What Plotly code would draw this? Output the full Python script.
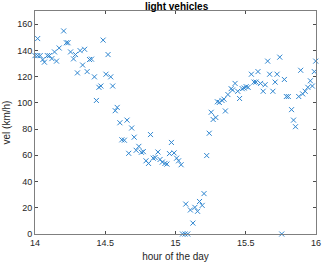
import plotly.graph_objects as go

hour = [14.0, 14.019, 14.019, 14.037, 14.056, 14.067, 14.088, 14.102, 14.12, 14.139,
        14.153, 14.172, 14.204, 14.223, 14.235, 14.253, 14.274, 14.288, 14.302, 14.321,
        14.339, 14.353, 14.371, 14.388, 14.402, 14.423, 14.437, 14.455, 14.469, 14.485,
        14.505, 14.52, 14.539, 14.553, 14.571, 14.585, 14.604, 14.618, 14.636, 14.655,
        14.667, 14.688, 14.706, 14.72, 14.739, 14.757, 14.771, 14.79, 14.808, 14.822,
        14.841, 14.855, 14.875, 14.89, 14.906, 14.925, 14.939, 14.957, 14.971, 14.99,
        15.008, 15.022, 15.04, 15.05, 15.068, 15.073, 15.087, 15.106, 15.124, 15.138,
        15.157, 15.171, 15.19, 15.203, 15.222, 15.24, 15.254, 15.268, 15.287, 15.298,
        15.312, 15.331, 15.345, 15.355, 15.373, 15.396, 15.406, 15.424, 15.443, 15.456,
        15.475, 15.489, 15.503, 15.517, 15.54, 15.559, 15.573, 15.587, 15.605, 15.624,
        15.638, 15.656, 15.67, 15.693, 15.709, 15.723, 15.742, 15.756, 15.775, 15.789,
        15.803, 15.826, 15.84, 15.854, 15.877, 15.891, 15.905, 15.923, 15.942, 15.96,
        15.974, 15.988, 15.998]
vel = [136, 149, 136, 136, 133, 131, 136, 136, 133.7, 138.8,
       131.8, 141.8, 154.8, 145.8, 145.8, 138.8, 133.5, 136.8, 122.8, 139.8,
       128.8, 140.8, 123.8, 133, 133.3, 119.8, 101.8, 111.8, 112.8, 147.8,
       121.8, 136.8, 119.8, 112.8, 94, 96.5, 84.8, 71.8, 71.5, 86.8,
       61.5, 80.8, 73.8, 63.8, 66.8, 62.3, 62.8, 55.8, 53.8, 75.8,
       57.8, 58.3, 62.5, 56.8, 54.8, 53.8, 53.3, 61.3, 69.8, 61.8,
       57.8, 55.8, 52.8, 0, 0, 22.8, 0, 18.3, 8.3, 20.3,
       17.3, 24.8, 21.8, 30.8, 59.8, 76.8, 92.8, 87.3, 88.8, 100.8,
       100.3, 101.8, 102.8, 93.8, 106.3, 110.8, 109.8, 114.8, 108.8, 103.3,
       110.8, 111.3, 112.3, 111.8, 121.8, 115.8, 115.8, 123.8, 114.8, 108.8,
       113.8, 131.8, 121.8, 108.8, 115.8, 121.8, 134.8, 0, 117.8, 104.8,
       104.8, 94.8, 86.8, 81.8, 104.8, 124.8, 106.8, 108.8, 111.8, 116.8,
       112.8, 123.8, 131.8]

x_ticks = [14, 14.5, 15, 15.5, 16]
x_tick_text = ["14", "14.5", "15", "15.5", "16"]
y_ticks = [0, 20, 40, 60, 80, 100, 120, 140, 160]

fig = go.Figure()
fig.add_trace(go.Scatter(
    x=hour, y=vel, mode="markers",
    marker=dict(symbol="x-thin", size=5, color="#2f86d0",
                line=dict(width=1, color="#2f86d0")),
    cliponaxis=False,
))

axis_common = dict(
    showline=True, linecolor="#7f7f7f", linewidth=1, mirror="ticks",
    ticks="inside", ticklen=3, tickcolor="#4d4d4d", tickwidth=1,
    showgrid=False, zeroline=False,
    tickfont=dict(family="Liberation Sans, Arial", size=9, color="#262626"),
)

fig.update_layout(
    width=327, height=267,
    margin=dict(l=34, r=6, t=11, b=30),
    paper_bgcolor="white", plot_bgcolor="white",
    showlegend=False,
    title=dict(text="<b>light vehicles</b>", x=0.54, xanchor="center",
               y=0.977, yanchor="middle", pad=dict(t=0, b=0),
               font=dict(family="Liberation Sans, Arial", size=10, color="#000000")),
    xaxis=dict(range=[14, 16], tickvals=x_ticks, ticktext=x_tick_text,
               title=dict(text="hour of the day", standoff=6,
                          font=dict(family="Liberation Sans, Arial", size=10, color="#262626")),
               **axis_common),
    yaxis=dict(range=[0, 170], tickvals=y_ticks,
               title=dict(text="vel (km/h)", standoff=4,
                          font=dict(family="Liberation Sans, Arial", size=10, color="#262626")),
               **axis_common),
)

fig.write_html("out.html", config={"displayModeBar": False},
               post_script="document.body.style.margin='0';document.body.style.overflow='hidden';")
